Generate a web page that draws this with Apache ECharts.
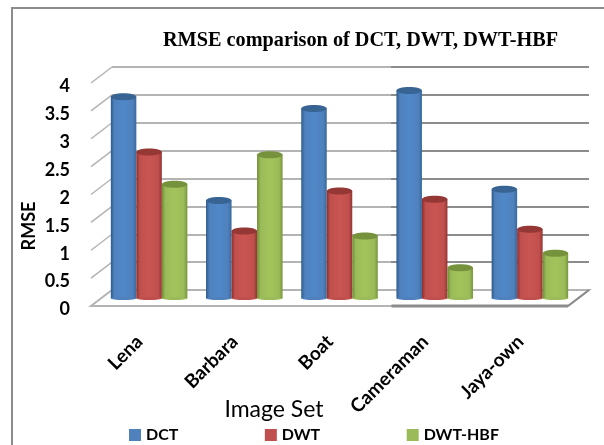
<!DOCTYPE html>
<html><head><meta charset="utf-8">
<style>html,body{margin:0;padding:0;background:#fff}#c{width:604px;height:445px}</style>
<script src="https://cdn.jsdelivr.net/npm/echarts@6/dist/echarts.min.js"></script>
</head><body><div id="c"></div>
<script>
const categories = ['Lena','Barbara','Boat','Cameraman','Jaya-own'];
const DCT = [3.62,1.76,3.41,3.73,1.96];
const DWT = [2.63,1.21,1.93,1.78,1.24];
const HBF = [2.05,2.58,1.12,0.55,0.81];
const yTicks = [0,0.5,1,1.5,2,2.5,3,3.5,4];

const palette = [
 {name:'DCT', data:DCT, main:'#4f81bd', edgeL:'#2f5b8c', edgeR:'#38689c', mid:'#5088c8', cap:'#386493'},
 {name:'DWT', data:DWT, main:'#c0504d', edgeL:'#8c2f2d', edgeR:'#943533', mid:'#ca5553', cap:'#953735'},
 {name:'DWT-HBF', data:HBF, main:'#9bbb59', edgeL:'#6f8c35', edgeR:'#77953b', mid:'#a3c45c', cap:'#76923c'}
];
const DX=-21, DY=16, SPLIT=0.585;
const LIGHT='#b4b4b4', DARK='#8c8c8c';
const hard={type:'linear',x:0,y:0,x2:1,y2:0,colorStops:[{offset:0,color:LIGHT},{offset:SPLIT,color:LIGHT},{offset:SPLIT,color:DARK},{offset:1,color:DARK}]};
const grids=[
 {left:101.5,width:476,top:75.5,height:223,outerBoundsMode:'none'},
 {left:112,width:477,top:67,height:223,outerBoundsMode:'none'},
 {left:92,width:476,top:86.5,height:223,outerBoundsMode:'none'}
];
const hiddenY={type:'value',min:0,max:4,interval:0.5,axisLine:{show:false},axisTick:{show:false},axisLabel:{show:false},splitLine:{show:false}};

const cylinder = palette.map(p=>({
 type:'bar',name:p.name,xAxisIndex:0,yAxisIndex:0,data:p.data,barWidth:'26.8%',barGap:'0%',z:3,
 itemStyle:{color:{type:'linear',x:0,y:0,x2:1,y2:0,colorStops:[
  {offset:0,color:p.edgeL},{offset:.14,color:p.main},{offset:.5,color:p.mid},{offset:.86,color:p.main},{offset:1,color:p.edgeR}]}},
 silent:true
}));
const caps = palette.map((p,i)=>({
 type:'custom',name:p.name+' caps',xAxisIndex:0,yAxisIndex:0,z:4,silent:true,
 data:p.data.map((v,c)=>[c,v]),
 renderItem(params,api){
  const bw=api.size([1,0])[0]*0.268;
  const top=api.coord([api.value(0),api.value(1)]);
  const base=api.coord([api.value(0),0]);
  const x=top[0]+(i-1)*bw;
  return {type:'group',children:[
   {type:'ellipse',shape:{cx:x,cy:base[1],rx:bw/2,ry:1.5},style:{fill:p.main}},
   {type:'ellipse',shape:{cx:x,cy:top[1],rx:bw/2,ry:3.5},style:{fill:p.cap}}
  ]};
 }
}));
const floor={type:'custom',xAxisIndex:1,yAxisIndex:1,z:1,silent:true,data:[[0,0]],
 renderItem(params,api){
  const a=api.coord([0,0]),b=api.coord([1,0]);
  const fl=[a[0]+DX,a[1]+DY],fr=[b[0]+DX,b[1]+DY];
  const mid=fl[0]+(fr[0]-fl[0])*0.63;
  return {type:'group',children:[
   {type:'polygon',shape:{points:[a,b,fr,fl]},style:{fill:'#fff',stroke:LIGHT,lineWidth:2}},
   {type:'line',shape:{x1:fl[0],y1:fl[1],x2:mid,y2:fl[1]},style:{stroke:LIGHT,lineWidth:2}},
   {type:'line',shape:{x1:mid,y1:fl[1],x2:fr[0],y2:fl[1]},style:{stroke:DARK,lineWidth:3}},
   {type:'line',shape:{x1:fr[0],y1:fr[1],x2:b[0],y2:b[1]},style:{stroke:DARK,lineWidth:2}}
  ]};
 }};
const sides={type:'custom',xAxisIndex:1,yAxisIndex:1,z:1,silent:true,data:yTicks.slice(1).map(v=>[0,v]),
 renderItem(params,api){
  const a=api.coord([0,api.value(1)]);
  return {type:'line',shape:{x1:a[0],y1:a[1],x2:a[0]+DX,y2:a[1]+DY},style:{stroke:LIGHT,lineWidth:1.5}};
 }};

const chart=echarts.init(document.getElementById('c'),null,{renderer:'canvas'});
chart.setOption({
 animation:false,backgroundColor:'#fff',
 title:{text:'RMSE comparison of DCT, DWT, DWT-HBF',left:163,top:31,padding:0,
  textStyle:{fontFamily:'Liberation Serif',fontWeight:'bold',fontSize:20.25,color:'#000'}},
 legend:{left:129,top:427,padding:0,itemWidth:12,itemHeight:12,itemGap:86.5,icon:'rect',
  data:palette.map(p=>({name:p.name,itemStyle:{color:p.main}})),
  textStyle:{fontFamily:'Lato',fontWeight:'bold',fontSize:16,color:'#000'}},
 grid:grids,
 xAxis:[
  {gridIndex:0,type:'category',data:categories,axisLine:{show:false},axisTick:{show:false},axisLabel:{show:false}},
  {gridIndex:1,type:'value',min:0,max:1,show:false},
  {gridIndex:2,type:'category',data:categories,axisLine:{show:false},axisTick:{show:false},
   axisLabel:{rotate:45,margin:29,interval:0,fontFamily:'Lato',fontWeight:'bold',fontSize:19,color:'#000'},
   name:'Image Set',nameLocation:'middle',nameGap:89,nameMoveOverlap:false,
   nameTextStyle:{fontFamily:'Lato',fontSize:23,color:'#000',padding:[0,112,0,0]}}
 ],
 yAxis:[
  Object.assign({gridIndex:0},hiddenY),
  Object.assign({gridIndex:1},hiddenY,{splitLine:{show:true,lineStyle:{color:hard,width:2}}}),
  {gridIndex:2,type:'value',min:0,max:4,interval:0.5,axisLine:{show:false},axisTick:{show:false},splitLine:{show:false},
   axisLabel:{margin:22,fontFamily:'Lato',fontWeight:'bold',fontSize:18,color:'#000'},
   name:'RMSE',nameLocation:'middle',nameRotate:90,nameGap:53.5,nameMoveOverlap:false,
   nameTextStyle:{fontFamily:'Lato',fontWeight:'bold',fontSize:18,color:'#000',padding:[0,56,0,0]}}
 ],
 series:[floor,sides,...cylinder,...caps],
 graphic:[
  {type:'polyline',silent:true,shape:{points:[[12,445],[12,8],[604,8]]},style:{fill:'none',stroke:'#8c8c8c',lineWidth:2}}
 ]
});
</script></body></html>
